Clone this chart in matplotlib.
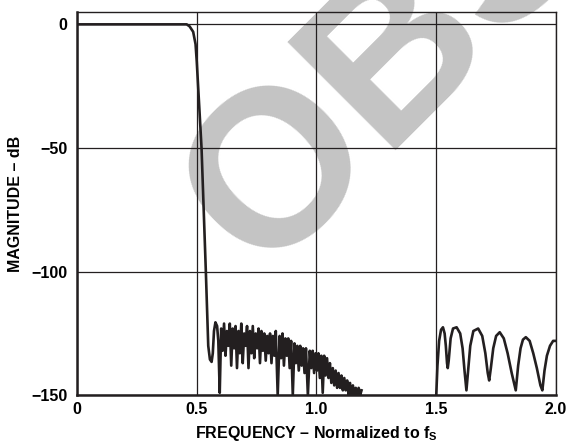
import matplotlib
matplotlib.use("Agg")
import matplotlib.pyplot as plt

plt.rcParams["font.family"] = "Liberation Sans"
plt.rcParams["font.weight"] = "bold"
plt.rcParams["axes.labelweight"] = "bold"
plt.rcParams["mathtext.fontset"] = "custom"
plt.rcParams["mathtext.rm"] = "Liberation Sans:bold"
plt.rcParams["mathtext.it"] = "Liberation Sans:bold"

# passband + transition + first stopband (noisy part)
freq_a = [0.0, 0.1, 0.2, 0.3, 0.4, 0.458, 0.47, 0.485, 0.495, 0.50, 0.52, 0.538,
          0.548, 0.555, 0.562, 0.567, 0.572, 0.578, 0.585,
          0.590, 0.596, 0.602, 0.608, 0.614, 0.620, 0.626, 0.632, 0.638, 0.644,
          0.650, 0.656, 0.662, 0.668, 0.674, 0.680, 0.686, 0.692, 0.698, 0.704,
          0.710, 0.716, 0.722, 0.728, 0.734, 0.740, 0.746, 0.752, 0.758, 0.764,
          0.770, 0.776, 0.782, 0.788, 0.794, 0.800, 0.806, 0.812, 0.818, 0.824,
          0.830, 0.838, 0.846, 0.852, 0.858, 0.864, 0.870, 0.876, 0.882, 0.888,
          0.894, 0.901, 0.908, 0.914, 0.920, 0.926, 0.932, 0.938, 0.944, 0.950,
          0.956, 0.964, 0.972, 0.978, 0.984, 0.990, 0.996, 1.002, 1.008, 1.014,
          1.020, 1.026, 1.032, 1.038, 1.044, 1.050, 1.056, 1.062, 1.068, 1.074,
          1.080, 1.086, 1.092, 1.098, 1.104, 1.110, 1.116, 1.122, 1.128, 1.134,
          1.140, 1.146, 1.152, 1.158, 1.164, 1.170, 1.176, 1.182, 1.188]
mag_a = [0.0, 0.0, 0.0, 0.0, 0.0, 0.0, -0.8, -3.0, -8.0, -15.0, -50.0, -100.0,
         -130.0, -135.5, -136.5, -133.0, -124.0, -120.5, -122.0,
         -128, -149, -123, -132, -121, -134, -124, -130, -121, -138,
         -123, -131, -122, -139, -124, -133, -121, -137, -125, -130,
         -122, -139, -124, -133, -122, -135, -125, -131, -123, -137,
         -124, -132, -125, -136, -126, -133, -125, -137, -126, -134,
         -124, -150, -126, -135, -125, -138, -127, -134, -127, -139,
         -128, -150, -129, -137, -130, -140, -130, -138, -131, -141,
         -131, -150, -132, -139, -132, -141, -133, -140, -133, -143,
         -134, -149, -134, -142, -135, -143, -137, -145, -139, -146,
         -140, -147, -141, -147, -142, -148, -143, -148, -144, -150,
         -145, -150, -146, -150, -147, -150, -147, -150, -148]

# second stopband image lobes
freq_b = [1.500, 1.505, 1.512, 1.520, 1.528, 1.535, 1.540, 1.545, 1.548, 1.552,
          1.560, 1.570, 1.585, 1.600, 1.610, 1.618, 1.626, 1.634, 1.642, 1.655,
          1.675, 1.692, 1.705, 1.715, 1.721, 1.728, 1.738, 1.750, 1.765, 1.782,
          1.798, 1.815, 1.832, 1.842, 1.852, 1.862, 1.874, 1.890, 1.905, 1.920,
          1.935, 1.943, 1.952, 1.962, 1.975, 1.988, 2.000]
mag_b = [-150, -138, -128, -123.5, -122.5, -125, -130, -137, -139, -136,
         -127, -123, -122.5, -125, -131, -140, -148, -139, -130, -124,
         -123, -126, -133, -141, -144, -139, -131, -126, -124.5, -127,
         -133, -141, -148, -138, -131, -127.5, -126.5, -128, -133, -139,
         -146, -148, -140, -134, -130, -128, -128]

xticks = [0, 0.5, 1.0, 1.5, 2.0]
xlabels = ["0", "0.5", "1.0", "1.5", "2.0"]
yticks = [0, -50, -100, -150]
ylabels = ["0", "\u221250", "\u2212100", "\u2212150"]

fig = plt.figure(figsize=(5.67, 4.46), dpi=100)
fig.patch.set_facecolor("white")
ax = fig.add_axes([0.1358, 0.1137, 0.8448, 0.8594])
ax.patch.set_visible(False)

# obsolete watermark behind everything
fig.text(0.462, 0.381, "OBSOLETE", fontsize=160, color="#c4c4c4", rotation=45,
         rotation_mode="anchor", ha="left", va="baseline", zorder=-5)

ax.plot(freq_a, mag_a, color="#231f20", lw=1.9, zorder=3, solid_joinstyle="round")
ax.plot(freq_b, mag_b, color="#231f20", lw=1.9, zorder=3, solid_joinstyle="round")

ax.set_xlim(0, 2.0)
ax.set_ylim(-150, 5)
ax.set_xticks(xticks)
ax.set_xticklabels(xlabels)
ax.set_yticks(yticks)
ax.set_yticklabels(ylabels)
ax.tick_params(length=0, labelsize=11.5)
ax.tick_params(axis="x", pad=5)
ax.tick_params(axis="y", pad=7)

ax.grid(True, color="#231f20", lw=0.9)
ax.set_axisbelow("line")

for s in ["left", "bottom"]:
    ax.spines[s].set_linewidth(1.8)
for s in ["top", "right"]:
    ax.spines[s].set_linewidth(1.0)
for s in ax.spines.values():
    s.set_color("#231f20")

ax.set_xlabel("FREQUENCY \u2013 Normalized to f$_\\mathrm{S}$", fontsize=11.5, labelpad=5)
ax.set_ylabel("MAGNITUDE \u2013 dB", fontsize=11.5, labelpad=6)

fig.savefig("out.png", dpi=100)
